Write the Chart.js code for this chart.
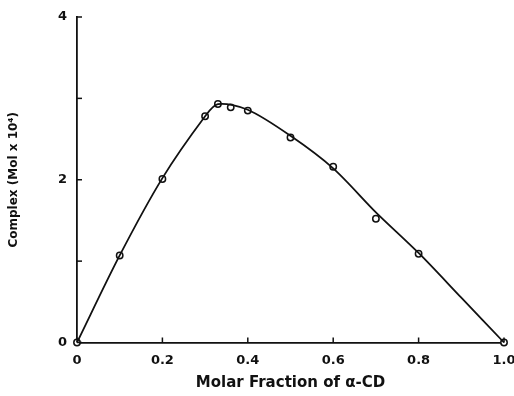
<!DOCTYPE html>
<html>
<head>
<meta charset="utf-8">
<script src="https://cdn.jsdelivr.net/npm/chart.js@4"></script>
<style>
  html, body { margin: 0; padding: 0; background: #fff; }
  #wrap { width: 514px; height: 396px; }
</style>
</head>
<body>
<div id="wrap"><canvas id="c" width="514" height="396"></canvas></div>
<script>
// measured points (open circles)
const fracX = [0, 0.1, 0.2, 0.3, 0.33, 0.36, 0.4, 0.5, 0.6, 0.7, 0.8, 1.0];
const complexY = [0, 1.07, 2.01, 2.78, 2.93, 2.89, 2.85, 2.52, 2.16, 1.52, 1.09, 0];

// the drawn smooth curve
const curveX = [0, 0.1, 0.2, 0.3, 0.33, 0.4, 0.5, 0.6, 0.7, 0.8, 0.9, 1.0];
const curveY = [0, 1.07, 2.02, 2.78, 2.93, 2.86, 2.54, 2.14, 1.6, 1.1, 0.55, 0];

const xTicks = [0, 0.2, 0.4, 0.6, 0.8, 1.0];
const xLabels = ['0', '0.2', '0.4', '0.6', '0.8', '1.0'];
const yTicks = [0, 1, 2, 3, 4];
const yLabeled = [0, 2, 4];

const FONT = "'DejaVu Sans', sans-serif";

// short inward tick marks along both axes
const innerTicks = {
  id: 'innerTicks',
  afterDraw(chart) {
    const { ctx, chartArea, scales } = chart;
    ctx.save();
    ctx.strokeStyle = '#111';
    ctx.lineWidth = 1.5;
    xTicks.forEach(v => {
      const px = scales.x.getPixelForValue(v);
      ctx.beginPath();
      ctx.moveTo(px, chartArea.bottom);
      ctx.lineTo(px, chartArea.bottom - 5);
      ctx.stroke();
    });
    yTicks.forEach(v => {
      const py = scales.y.getPixelForValue(v);
      ctx.beginPath();
      ctx.moveTo(chartArea.left, py);
      ctx.lineTo(chartArea.left + 5, py);
      ctx.stroke();
    });
    ctx.restore();
  }
};

new Chart(document.getElementById('c'), {
  type: 'scatter',
  data: {
    datasets: [
      {
        label: 'fit',
        data: curveX.map((x, i) => ({ x, y: curveY[i] })),
        showLine: true,
        borderColor: '#111',
        borderWidth: 1.8,
        pointRadius: 0,
        tension: 0.3,
        fill: false
      },
      {
        label: 'measured',
        data: fracX.map((x, i) => ({ x, y: complexY[i] })),
        showLine: false,
        pointRadius: 3.2,
        pointBorderWidth: 1.5,
        pointBorderColor: '#111',
        pointBackgroundColor: '#fff'
      }
    ]
  },
  options: {
    responsive: false,
    animation: false,
    clip: false,
    layout: { padding: { top: 17, right: 10, left: 0, bottom: 0 } },
    plugins: { legend: { display: false }, tooltip: { enabled: false } },
    scales: {
      x: {
        type: 'linear',
        min: 0, max: 1,
        afterBuildTicks: s => { s.ticks = xTicks.map(v => ({ value: v })); },
        afterFit: s => { s.height = 53.5; s.paddingLeft = 0; s.paddingRight = 0; },
        border: { color: '#111', width: 1.8 },
        grid: { display: false, drawTicks: false },
        ticks: {
          color: '#111',
          padding: 10,
          maxRotation: 0,
          font: { family: FONT, size: 13, weight: 'bold' },
          callback: v => xLabels[xTicks.indexOf(v)] ?? ''
        },
        title: {
          display: true,
          text: 'Molar Fraction of α-CD',
          color: '#111',
          padding: { top: 5 },
          font: { family: FONT, size: 15, weight: 'bold' }
        }
      },
      y: {
        type: 'linear',
        min: 0, max: 4,
        afterBuildTicks: s => { s.ticks = yTicks.map(v => ({ value: v })); },
        afterFit: s => { s.width = 77; s.paddingTop = 0; s.paddingBottom = 0; },
        border: { color: '#111', width: 1.8 },
        grid: { display: false, drawTicks: false },
        ticks: {
          color: '#111',
          padding: 10,
          font: { family: FONT, size: 13, weight: 'bold' },
          callback: v => yLabeled.includes(v) ? String(v) : ''
        },
        title: {
          display: true,
          text: 'Complex (Mol x 10⁴)',
          color: '#111',
          padding: { top: 7, bottom: 0 },
          font: { family: FONT, size: 12, weight: 'bold' }
        }
      }
    }
  },
  plugins: [innerTicks]
});
</script>
</body>
</html>
